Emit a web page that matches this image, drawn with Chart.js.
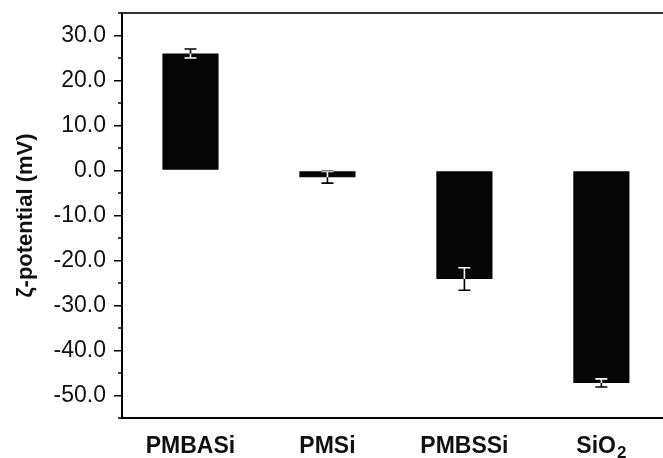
<!DOCTYPE html>
<html>
<head>
<meta charset="utf-8">
<script src="https://cdn.jsdelivr.net/npm/chart.js@4.4.1/dist/chart.umd.min.js"></script>
<style>
  body { margin: 0; background: #fff; }
  canvas { display: block; }
</style>
</head>
<body>
<canvas id="zetaChart" width="663" height="458"></canvas>
<script>
// zeta potential per sample (mV) and error
const categories = ['PMBASi', 'PMSi', 'PMBSSi', 'SiO₂'];
const zeta = [26.0, -1.5, -24.1, -47.2];
const zetaErr = [1.0, 1.3, 2.5, 0.9];
const yMin = -55;
const yMax = 35;

const FONT = 'Liberation Sans, Arial, sans-serif';

// error bars: black outside the bar, white where they sit on the bar
const errorBars = {
    id: 'errorBars',
    afterDatasetsDraw(chart) {
        const { ctx, scales: { y } } = chart;
        const meta = chart.getDatasetMeta(0);
        meta.data.forEach((bar, i) => {
            const cx = bar.x;
            const hi = y.getPixelForValue(zeta[i] + zetaErr[i]);
            const lo = y.getPixelForValue(zeta[i] - zetaErr[i]);
            const draw = (color) => {
                ctx.strokeStyle = color;
                ctx.lineWidth = 1.6;
                ctx.beginPath();
                ctx.moveTo(cx, hi); ctx.lineTo(cx, lo);
                ctx.moveTo(cx - 6, hi); ctx.lineTo(cx + 6, hi);
                ctx.moveTo(cx - 6, lo); ctx.lineTo(cx + 6, lo);
                ctx.stroke();
            };
            ctx.save();
            draw('#000');
            ctx.beginPath();
            ctx.rect(bar.x - bar.width / 2, Math.min(bar.y, bar.base), bar.width, Math.abs(bar.base - bar.y));
            ctx.clip();
            draw('#fff');
            ctx.restore();
        });
    }
};

// top frame line, short minor ticks, category labels (with real subscript for SiO2)
const frame = {
    id: 'frame',
    afterDraw(chart) {
        const { ctx, chartArea, scales: { x, y } } = chart;
        ctx.save();
        ctx.strokeStyle = '#333';
        ctx.lineWidth = 2;
        ctx.beginPath();
        ctx.moveTo(chartArea.left, chartArea.top);
        ctx.lineTo(chartArea.right, chartArea.top);
        ctx.stroke();
        ctx.strokeStyle = '#000';
        ctx.lineWidth = 1.5;
        y.ticks.forEach(t => {
            if (t.value % 10 !== 0) {
                const py = y.getPixelForValue(t.value);
                ctx.beginPath();
                ctx.moveTo(chartArea.left - 4, py);
                ctx.lineTo(chartArea.left, py);
                ctx.stroke();
            }
        });

        ctx.fillStyle = '#111';
        ctx.textBaseline = 'alphabetic';
        ctx.textAlign = 'left';
        const baseY = chartArea.bottom + 35;
        categories.forEach((label, i) => {
            const cx = x.getPixelForValue(i + 1);
            const m = label.match(/^(.*?)([₀-₉]*)$/);
            const main = m[1];
            const sub = m[2].replace(/[₀-₉]/g, ch => String.fromCharCode(ch.charCodeAt(0) - 0x2080 + 48));
            ctx.font = 'bold 23px ' + FONT;
            const wMain = ctx.measureText(main).width;
            ctx.font = 'bold 17px ' + FONT;
            const wSub = sub ? ctx.measureText(sub).width + 1 : 0;
            let left = cx - (wMain + wSub) / 2;
            ctx.font = 'bold 23px ' + FONT;
            ctx.fillText(main, left, baseY);
            if (sub) {
                ctx.font = 'bold 17px ' + FONT;
                ctx.fillText(sub, left + wMain + 1, baseY + 5);
            }
        });
        ctx.restore();
    }
};

const ctx = document.getElementById('zetaChart').getContext('2d');
new Chart(ctx, {
    type: 'bar',
    data: {
        datasets: [{
            data: zeta.map((v, i) => ({ x: i + 1, y: v })),
            backgroundColor: '#050505',
            borderWidth: 0,
            barPercentage: 0.41,
            categoryPercentage: 1
        }]
    },
    options: {
        responsive: false,
        animation: false,
        layout: { padding: { left: 13, top: 13, right: 0, bottom: 0 } },
        plugins: { legend: { display: false }, tooltip: { enabled: false } },
        scales: {
            x: {
                type: 'linear',
                min: 0.5,
                max: 4.45,
                offset: false,
                afterBuildTicks: axis => { axis.ticks = categories.map((c, i) => ({ value: i + 1 })); },
                afterFit: s => { s.height = 40; s.paddingLeft = 0; s.paddingRight = 0; },
                grid: { display: false, drawTicks: false },
                border: { display: true, color: '#000', width: 2 },
                ticks: { display: false }
            },
            y: {
                min: yMin,
                max: yMax,
                afterFit: s => { s.width = 109; s.paddingTop = 0; s.paddingBottom = 0; },
                grid: {
                    drawOnChartArea: false,
                    tickLength: 8,
                    lineWidth: 1.5,
                    tickColor: c => (c.tick && c.tick.value % 10 === 0) ? '#000' : 'rgba(0,0,0,0)'
                },
                border: { color: '#000', width: 2 },
                ticks: {
                    autoSkip: false,
                    stepSize: 5,
                    padding: 8,
                    color: '#111',
                    font: { family: FONT, size: 23 },
                    callback: v => v % 10 === 0 ? v.toFixed(1) : ''
                },
                title: {
                    display: true,
                    text: 'ζ-potential (mV)',
                    color: '#111',
                    padding: 0,
                    font: { family: FONT, size: 22, weight: 'bold' }
                }
            }
        }
    },
    plugins: [errorBars, frame]
});
</script>
</body>
</html>
